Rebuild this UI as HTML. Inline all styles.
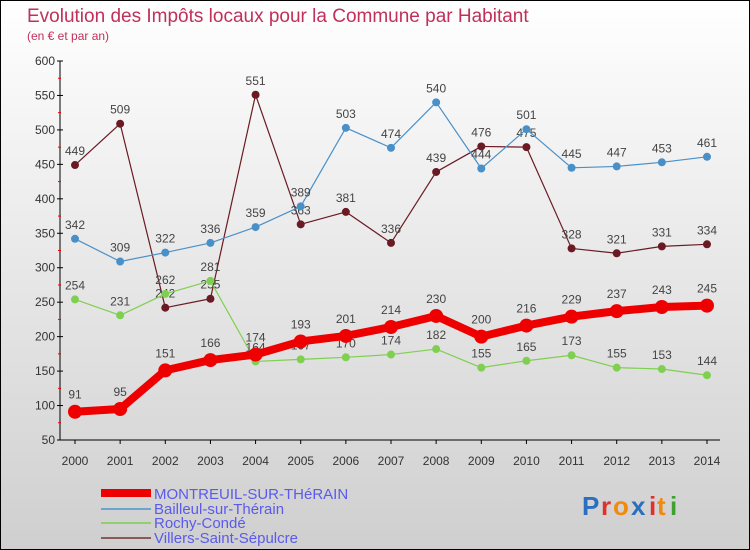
<!DOCTYPE html>
<html><head><meta charset="utf-8"><style>
body{margin:0}
#wrap{width:750px;height:550px;position:relative;overflow:hidden;font-family:"Liberation Sans",sans-serif}
</style></head><body>
<div id="wrap">
<svg id="chart" width="750" height="550">
<defs><linearGradient id="bg" x1="0" y1="0" x2="0" y2="1"><stop offset="0" stop-color="#ffffff"/><stop offset="1" stop-color="#cfcfcf"/></linearGradient></defs>
<rect x="0.5" y="0.5" width="749" height="549" fill="url(#bg)" stroke="#000"/>
<text x="27" y="22" font-size="19" fill="#c0305a">Evolution des Impôts locaux pour la Commune par Habitant</text>
<text x="27" y="40" font-size="12" fill="#c0305a">(en € et par an)</text>
<g id="axes"></g><g id="series"></g>
<g>
<rect x="101" y="489" width="50" height="8" fill="#ee0000"/>
<text x="154" y="499" font-size="15" fill="#5a5aee">MONTREUIL-SUR-THéRAIN</text>
<rect x="101" y="508" width="50" height="2" fill="#6aa4d0"/>
<text x="154" y="514" font-size="15" fill="#5a5aee">Bailleul-sur-Thérain</text>
<rect x="101" y="522" width="50" height="2" fill="#90d070"/>
<text x="154" y="528" font-size="15" fill="#5a5aee">Rochy-Condé</text>
<rect x="101" y="537" width="50" height="2" fill="#8a5a5a"/>
<text x="154" y="543" font-size="15" fill="#5a5aee">Villers-Saint-Sépulcre</text>
</g>
<g font-size="26" font-weight="bold">
<text x="582" y="515" fill="#2a6fc0">P</text><text x="601" y="515" fill="#e0302a">r</text><text x="613" y="515" fill="#f08a10">o</text><text x="631" y="515" fill="#2a6fc0">x</text><text x="649" y="515" fill="#e0302a">i</text><text x="657" y="515" fill="#f08a10">t</text><text x="670" y="515" fill="#40a030">i</text>
</g>
</svg>
</div>
<script>
const years=[2000,2001,2002,2003,2004,2005,2006,2007,2008,2009,2010,2011,2012,2013,2014];
const montreuil=[91,95,151,166,174,193,201,214,230,200,216,229,237,243,245];
const bailleul=[342,309,322,336,359,389,503,474,540,444,501,445,447,453,461];
const rochy=[254,231,262,281,164,167,170,174,182,155,165,173,155,153,144];
const villers=[449,509,242,255,551,363,381,336,439,476,475,328,321,331,334];
const yTicks=[50,100,150,200,250,300,350,400,450,500,550,600];
const NS='http://www.w3.org/2000/svg';
const X=i=>75+i*(707-75)/(years.length-1);
const Y=v=>440-(v-50)*(440-61)/550;
function mk(tag,attrs,parent){const e=document.createElementNS(NS,tag);for(const k in attrs)e.setAttribute(k,attrs[k]);parent.appendChild(e);return e;}
const axes=document.getElementById('axes');
const ax=mk('line',{x1:60,y1:Y(600),x2:60,y2:Y(50),stroke:'#000'},axes);


const bx=mk('line',{x1:60,y1:Y(50),x2:720,y2:Y(50),stroke:'#000'},axes);


yTicks.forEach(t=>{
 mk('line',{x1:57,y1:Y(t),x2:63,y2:Y(t),stroke:'#000'},axes);
 const tx=mk('text',{x:55,y:Y(t)+4,'font-size':12,fill:'#333','text-anchor':'end'},axes);tx.textContent=t;
 
 
 if(t<600)mk('line',{x1:58,y1:Y(t+25),x2:61,y2:Y(t+25),stroke:'#e00'},axes);
});
years.forEach((y,i)=>{
 mk('line',{x1:X(i),y1:Y(50),x2:X(i),y2:Y(50)+4,stroke:'#000'},axes);
 const tx=mk('text',{x:X(i),y:465,'font-size':12,fill:'#333','text-anchor':'middle'},axes);tx.textContent=y;
 
 
});
const sg=document.getElementById('series');
function draw(data,color,width,r,name){
 const g=mk('g',{},sg);
 
 
 const pl=mk('polyline',{points:data.map((v,i)=>X(i)+','+Y(v)).join(' '),fill:'none',stroke:color,'stroke-width':width,'stroke-linejoin':'round'},g);
 
 
 data.forEach((v,i)=>{
  const c=mk('circle',{cx:X(i),cy:Y(v),r:r,fill:color},g);
  
  
  const t=mk('text',{x:X(i),y:Y(v)-(r+6),'font-size':12,fill:'#444','text-anchor':'middle'},g);t.textContent=v;
  
  
 });
}
draw(villers,'#6a1a22',1.2,4,'villers');
draw(rochy,'#7fcf50',1.2,4,'rochy');
draw(bailleul,'#4a90c8',1.2,4,'bailleul');
draw(montreuil,'#ee0000',8,7,'montreuil');
</script>
</body></html>
